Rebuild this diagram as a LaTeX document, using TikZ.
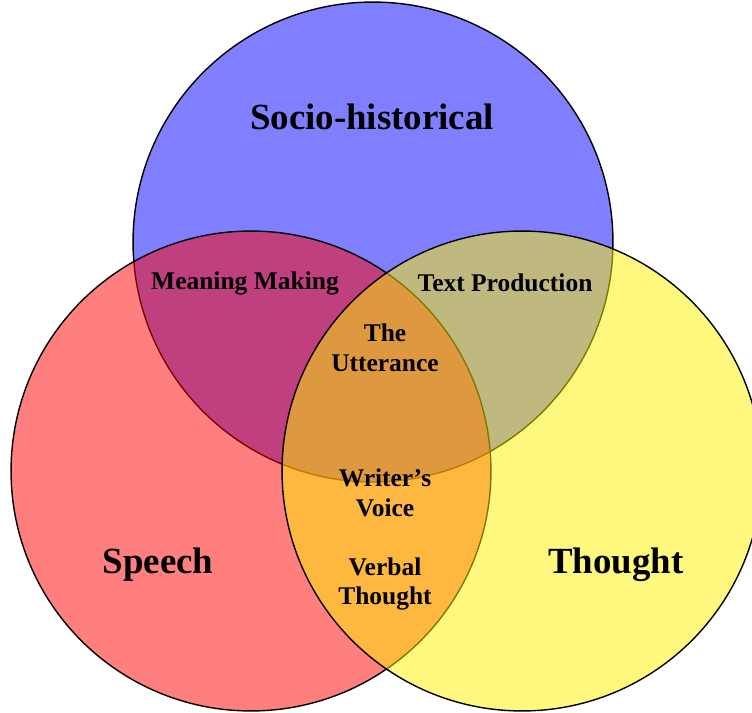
\documentclass[tikz,border=0pt]{standalone}
\usepackage{fontspec}
\setmainfont{Liberation Serif}

\begin{document}
\begin{tikzpicture}[x=0.02cm,y=-0.02cm,semithick]
  \tikzstyle{ring}=[circle,draw=black,line width=0.8pt,fill opacity=0.5,
                    minimum size=9.6cm,inner sep=0pt]
  \tikzstyle{big}=[font=\bfseries\fontsize{21}{24}\selectfont,inner sep=0pt]
  \tikzstyle{zone}=[font=\bfseries\fontsize{14.5}{17}\selectfont,align=center,
                    inner sep=0pt]

  \useasboundingbox (0,0) rectangle (752,713);
  \clip (0,0) rectangle (752,713);

  % the three sets
  \node[ring,fill=blue]   (soc) at (373,242) {};
  \node[ring,fill=red]    (sp)  at (251,471) {};
  \node[ring,fill=yellow] (th)  at (522,471) {};

  % set names
  \node[big] (socname) at (372,117) {Socio-historical};
  \node[big] (spname)  at (158,565) {Speech};
  \node[big] (thname)  at (616,565) {Thought};

  % overlaps
  \node[zone] (mm) at (245,283) {Meaning Making};
  \node[zone] (tp) at (505,283) {Text Production};
  \node[zone] (ut) at (385,348) {The\\Utterance};
  \node[zone] (wv) at (385,493) {Writer's\\Voice};
  \node[zone] (vt) at (385,584) {Verbal\\Thought};
\end{tikzpicture}
\end{document}
